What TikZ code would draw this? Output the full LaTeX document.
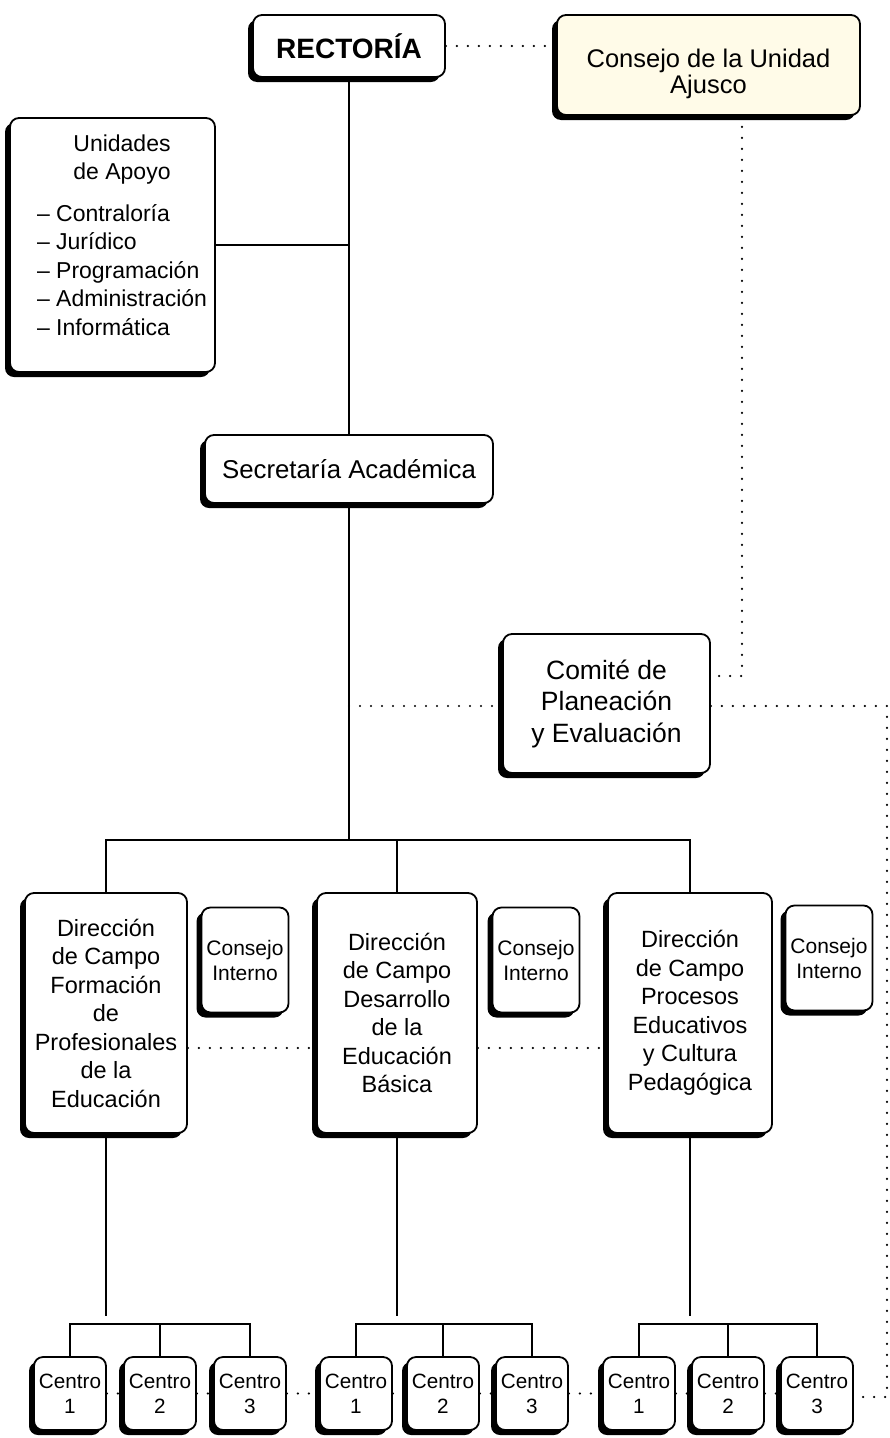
\documentclass[tikz,border=0pt]{standalone}
\usepackage{fontspec}
\setmainfont{Liberation Sans}
\usetikzlibrary{shadows,backgrounds}
\definecolor{cream}{RGB}{255,251,232}
\begin{document}
\begin{tikzpicture}[x=1pt,y=-1pt,
  box/.style={draw, line width=1.8pt, rounded corners=9pt, fill=white, inner sep=2pt,
    drop shadow={shadow xshift=-5pt, shadow yshift=-5pt, fill=black, opacity=1}},
  cbox/.style={box, align=center},
  dirbox/.style={cbox, minimum height=240pt, font=\fontsize{23.5}{28.5}\selectfont},
  cibox/.style={cbox, minimum width=87pt, minimum height=105pt, font=\fontsize{21}{25}\selectfont},
  cenbox/.style={cbox, minimum width=72pt, minimum height=73pt, font=\fontsize{20.7}{25}\selectfont},
  conn/.style={line width=1.8pt},
  dotline/.style={line width=2.4pt, line cap=round, dash pattern=on 0pt off 11pt}]
\useasboundingbox (0,0) rectangle (890,1438);

% top level
\node[cbox, minimum width=192pt, minimum height=62pt, font=\fontsize{28}{32}\selectfont\bfseries] (rect) at (349,46) {RECTORÍA};
\node[box, fill=cream, minimum width=303pt, minimum height=100pt] (cons) at (708.5,65) {};
\node[align=center, inner sep=0pt, font=\fontsize{25.5}{26}\selectfont] (cons-t) at (708.5,74) {Consejo de la Unidad\\Ajusco};
\node[box, minimum width=205pt, minimum height=254pt, inner sep=0pt, font=\fontsize{23}{28.5}\selectfont] (unid) at (112.5,245)
  {\hspace*{19pt}\begin{minipage}{170pt}{\centering Unidades\\de Apoyo\par}\vspace{13pt}%
  – Contraloría\\– Jurídico\\– Programación\\– Administración\\– Informática\par\vspace{20pt}\end{minipage}};
\node[cbox, minimum width=288pt, minimum height=68pt, font=\fontsize{25.8}{30}\selectfont] (secr) at (349,469) {Secretaría Académica};
\node[cbox, minimum width=207pt, minimum height=139pt, font=\fontsize{26.5}{31.5}\selectfont] (comite) at (606.5,703.5) {Comité de\\Planeación\\y Evaluación};

% directions
\node[dirbox, minimum width=162pt] (d1) at (106,1013) {Dirección\\de Campo\\Formación\\de\\Profesionales\\de la\\Educación};
\node[dirbox, minimum width=160pt] (d2) at (397,1013) {Dirección\\de Campo\\Desarrollo\\de la\\Educación\\Básica};
\node[dirbox, minimum width=164pt] (d3) at (690,1013) {Dirección\\de Campo\\Procesos\\Educativos\\y Cultura\\Pedagógica};
\node[cibox] (ci1) at (245,960) {Consejo\\Interno};
\node[cibox] (ci2) at (536,960) {Consejo\\Interno};
\node[cibox] (ci3) at (829,958) {Consejo\\Interno};

% centros
\node[cenbox] (g1c1) at (70,1393.5) {Centro\\1};
\node[cenbox] (g1c2) at (160,1393.5) {Centro\\2};
\node[cenbox] (g1c3) at (250,1393.5) {Centro\\3};
\node[cenbox] (g2c1) at (356,1393.5) {Centro\\1};
\node[cenbox] (g2c2) at (443,1393.5) {Centro\\2};
\node[cenbox] (g2c3) at (532,1393.5) {Centro\\3};
\node[cenbox] (g3c1) at (639,1393.5) {Centro\\1};
\node[cenbox] (g3c2) at (728,1393.5) {Centro\\2};
\node[cenbox] (g3c3) at (817,1393.5) {Centro\\3};

\coordinate (busc) at (349,840);
\coordinate (cc) at (742,676);
\coordinate (mv) at (349,706);
\coordinate (rc) at (887,706);
\coordinate (rb) at (887,1397);
\coordinate (g1top) at (106,1316);
\coordinate (g2top) at (397,1316);
\coordinate (g3top) at (690,1316);
\coordinate (g1bus) at (160,1324);
\coordinate (g2bus) at (443,1324);
\coordinate (g3bus) at (728,1324);

\begin{scope}[on background layer]
  % solid connectors
  \draw[conn] (rect.south) -- (secr.north);
  \draw[conn] (unid.east) -- (unid.east -| rect.south);
  \draw[conn] (secr.south) -- (busc);
  \draw[conn] (d1.north) |- (busc) -| (d3.north);
  \draw[conn] (busc) -| (d2.north);
  \draw[conn] (d1.south) -- (g1top);
  \draw[conn] (d2.south) -- (g2top);
  \draw[conn] (d3.south) -- (g3top);
  \draw[conn] (g1c1.north) |- (g1bus) -| (g1c3.north);
  \draw[conn] (g1c2.north) -- (g1bus);
  \draw[conn] (g2c1.north) |- (g2bus) -| (g2c3.north);
  \draw[conn] (g2c2.north) -- (g2bus);
  \draw[conn] (g3c1.north) |- (g3bus) -| (g3c3.north);
  \draw[conn] (g3c2.north) -- (g3bus);
  % dotted connectors
  \draw[dotline] (rect.east) -- (rect.east -| cons.west);
  \draw[dotline] (cons.south -| cc) -- (cc) -- (cc -| comite.east);
  \draw[dotline] (mv) -- (mv -| comite.west);
  \draw[dotline] (rc -| comite.east) -- (rc) -- (rb) -- (rb -| g3c3.east);
  \draw[dotline] ([yshift=-35pt]d1.east) -- ([yshift=-35pt]d1.east -| d2.west);
  \draw[dotline] ([yshift=-35pt]d2.east) -- ([yshift=-35pt]d2.east -| d3.west);
  \draw[dotline] (g1c1.east) -- (g1c2.west);
  \draw[dotline] (g1c2.east) -- (g1c3.west);
  \draw[dotline] (g1c3.east) -- (g2c1.west);
  \draw[dotline] (g2c1.east) -- (g2c2.west);
  \draw[dotline] (g2c2.east) -- (g2c3.west);
  \draw[dotline] (g2c3.east) -- (g3c1.west);
  \draw[dotline] (g3c1.east) -- (g3c2.west);
  \draw[dotline] (g3c2.east) -- (g3c3.west);
\end{scope}
\end{tikzpicture}
\end{document}
